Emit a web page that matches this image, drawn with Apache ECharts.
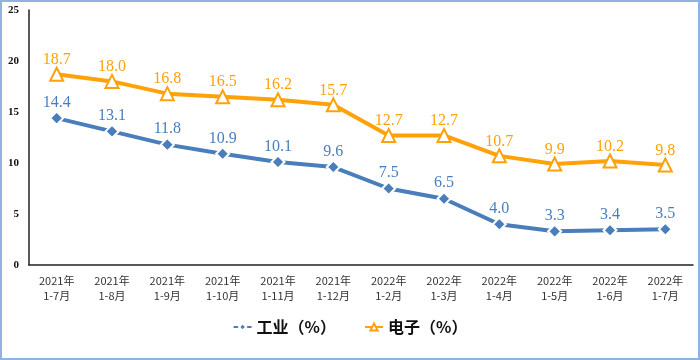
<!DOCTYPE html>
<html><head><meta charset="utf-8">
<script src="https://cdn.jsdelivr.net/npm/echarts@6/dist/echarts.min.js"></script>
<style>html,body{margin:0;padding:0;background:#fff}#c{width:700px;height:360px}</style>
</head><body><div id="c"></div>
<script>
var categories = ['2021年\n1-7月','2021年\n1-8月','2021年\n1-9月','2021年\n1-10月','2021年\n1-11月','2021年\n1-12月','2022年\n1-2月','2022年\n1-3月','2022年\n1-4月','2022年\n1-5月','2022年\n1-6月','2022年\n1-7月'];
var industry = [14.4,13.1,11.8,10.9,10.1,9.6,7.5,6.5,4.0,3.3,3.4,3.5];
var electronics = [18.7,18.0,16.8,16.5,16.2,15.7,12.7,12.7,10.7,9.9,10.2,9.8];
var yTicks = [0,5,10,15,20,25];
var blue = '#4a7ebb', orange = '#ffa20a';
var chart = echarts.init(document.getElementById('c'));
chart.setOption({
  animation:false,
  graphic:[{type:'rect',shape:{x:1,y:1,width:698,height:358},style:{fill:'none',stroke:'#8fb4e3',lineWidth:2},silent:true}],
  grid:{left:29,right:7,top:10,bottom:95},
  legend:{bottom:20,left:'center',itemGap:28,itemWidth:18,itemHeight:9,
    textStyle:{fontSize:16,fontWeight:'bold',color:'#111',fontFamily:'Noto Sans CJK SC'},
    data:['工业（%）','电子（%）']},
  xAxis:{type:'category',data:categories,boundaryGap:true,
    axisLine:{lineStyle:{color:'#222',width:1.5}},axisTick:{show:false},
    axisLabel:{color:'#333',fontSize:11,lineHeight:15,margin:8,fontFamily:'Noto Sans CJK SC',interval:0}},
  yAxis:{type:'value',min:yTicks[0],max:yTicks[yTicks.length-1],interval:5,
    splitLine:{show:false},axisLine:{show:true,lineStyle:{color:'#222',width:1.5}},axisTick:{show:false},
    axisLabel:{color:'#111',fontSize:11,fontWeight:'bold',fontFamily:'Liberation Serif',margin:10}},
  series:[
    {name:'工业（%）',type:'line',data:industry,symbol:'diamond',symbolSize:13,
     lineStyle:{color:blue,width:4},itemStyle:{color:blue,borderColor:'#fff',borderWidth:2},
     label:{show:true,position:'top',distance:0,color:blue,fontSize:16,fontFamily:'Liberation Serif',formatter:function(p){return p.value.toFixed(1);}}},
    {name:'电子（%）',type:'line',data:electronics,symbol:'triangle',symbolSize:13,
     lineStyle:{color:orange,width:4},itemStyle:{color:'#fff',borderColor:orange,borderWidth:2},
     label:{show:true,position:'top',distance:-1,color:orange,fontSize:16,fontFamily:'Liberation Serif',formatter:function(p){return p.value.toFixed(1);}}}
  ]
});
</script></body></html>
